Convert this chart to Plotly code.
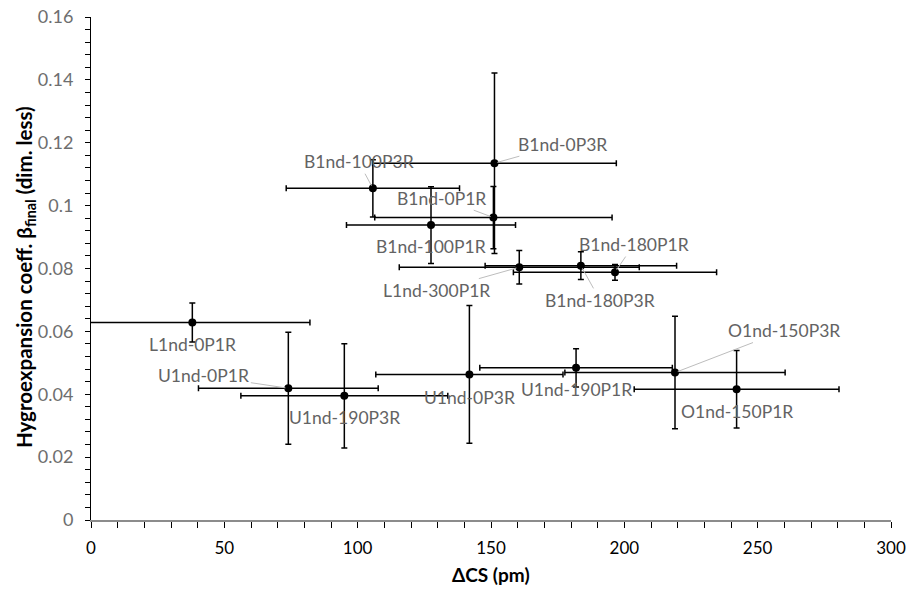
import plotly.graph_objects as go

# Data
labels = ["B1nd-0P3R", "B1nd-100P3R", "B1nd-0P1R", "B1nd-100P1R", "L1nd-300P1R",
          "B1nd-180P1R", "B1nd-180P3R", "L1nd-0P1R", "U1nd-0P1R", "U1nd-190P3R",
          "U1nd-0P3R", "U1nd-190P1R", "O1nd-150P3R", "O1nd-150P1R"]
delta_cs = [151.3, 105.7, 150.9, 127.5, 160.6, 196.5, 183.7, 38.0, 74.0, 95.0,
            141.9, 181.9, 219.0, 242.1]
beta_final = [0.1135, 0.1055, 0.0962, 0.0938, 0.0804, 0.0788, 0.0809, 0.0628, 0.0419, 0.0395,
              0.0463, 0.0484, 0.0469, 0.0416]
delta_cs_err = [45.7, 32.5, 44.5, 31.7, 45.0, 38.1, 35.9, 44.1, 33.7, 38.8,
                35.1, 36.1, 41.3, 38.4]
beta_err = [0.0287, 0.0091, 0.0099, 0.0122, 0.0053, 0.0025, 0.0044, 0.0062, 0.0178, 0.0166,
            0.0219, 0.0061, 0.0179, 0.0123]

x_title = "<b>ΔCS (pm)</b>"
y_title = "<b>Hygroexpansion coeff. β<sub>final</sub> (dim. less)</b>"

# label offsets in pixels (text centre relative to point) and whether a leader line is drawn
label_dx = [67.7, -14.3, -51.6, 0, -83, 18.8, 19.3, 0, -84.5, 0, 0, 0, 109.2, 0]
label_dy = [-19, -26.6, -19.4, 21.4, 23.4, -27.7, 34.7, 22.3, -12.6, 21.6, 22.7, 21.6, -42, 22.4]
leader = [True, True, True, False, True, True, True, False, True, False, False, False, True, False]

FONT = "Lato"
GRAY = "#595959"
LABEL_FONT = dict(family=FONT, size=17.5, color="#636363")

fig = go.Figure()
fig.add_trace(go.Scatter(
    x=delta_cs, y=beta_final, mode="markers",
    marker=dict(color="black", size=8),
    error_x=dict(type="data", array=delta_cs_err, color="black", thickness=1.5, width=3),
    error_y=dict(type="data", array=beta_err, color="black", thickness=1.5, width=3),
    showlegend=False, cliponaxis=True,
))

annotations = []
for lab, x, y, dx, dy, ld in zip(labels, delta_cs, beta_final, label_dx, label_dy, leader):
    if ld:
        annotations.append(dict(x=x, y=y, xref="x", yref="y", text=lab, showarrow=True,
                                ax=dx, ay=dy, arrowhead=0, arrowwidth=1, arrowcolor="#bdbdbd",
                                standoff=3, font=LABEL_FONT))
    else:
        annotations.append(dict(x=x, y=y, xref="x", yref="y", text=lab, showarrow=False,
                                xshift=dx, yshift=-dy, font=LABEL_FONT))

# axis titles as paper annotations (fixed positions)
annotations.append(dict(x=0.5, y=-0.109, xref="paper", yref="paper", text=x_title,
                        showarrow=False, xanchor="center", yanchor="middle",
                        font=dict(family=FONT, size=19, color="black")))
annotations.append(dict(x=-0.0825, y=0.483, xref="paper", yref="paper", text=y_title,
                        showarrow=False, textangle=-90, xanchor="center", yanchor="middle",
                        font=dict(family=FONT, size=20.5, color="black")))

fig.update_layout(
    width=917, height=589,
    margin=dict(l=91, r=26, t=17, b=69),
    paper_bgcolor="white", plot_bgcolor="white",
    font=dict(family=FONT, size=16, color=GRAY),
    annotations=annotations,
    xaxis=dict(range=[0, 300], dtick=50, tick0=0, showgrid=False, zeroline=False,
               automargin=False,
               showline=True, linecolor="#8c8c8c", linewidth=2,
               ticks="outside", ticklen=6, tickcolor="black", tickwidth=1,
               minor=dict(dtick=10, ticks="outside", ticklen=6, tickcolor="black", showgrid=False),
               ticklabelstandoff=6,
               tickfont=dict(family=FONT, size=17, color="black")),
    yaxis=dict(range=[0, 0.16], dtick=0.02, tick0=0, showgrid=False, zeroline=False,
               automargin=False,
               showline=True, linecolor="black", linewidth=1,
               ticks="outside", ticklen=5, tickcolor="black", tickwidth=1,
               minor=dict(dtick=0.004, ticks="outside", ticklen=5, tickcolor="black", showgrid=False),
               tickformat="~g", ticklabelstandoff=8,
               tickfont=dict(family=FONT, size=18, color="#6e6e6e")),
)

fig.write_html("out.html")
